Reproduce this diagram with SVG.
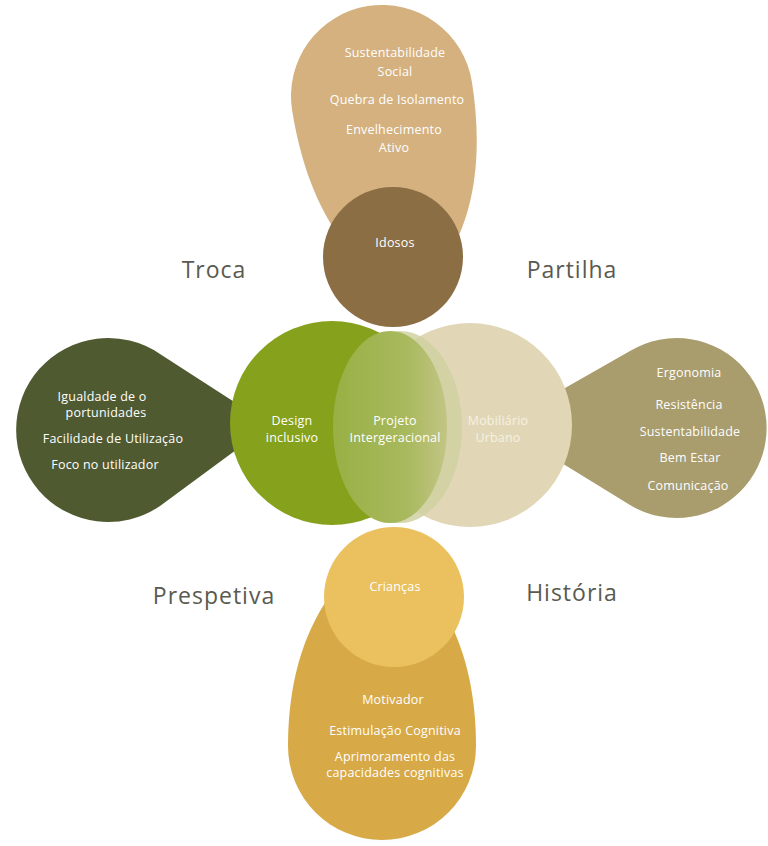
<svg xmlns="http://www.w3.org/2000/svg" width="768" height="846" viewBox="0 0 768 846">
  <defs>
    <linearGradient id="lensFill" x1="0" y1="0" x2="1" y2="0">
      <stop offset="0" stop-color="#98b044"/>
      <stop offset="0.65" stop-color="#a9b95e"/>
      <stop offset="1" stop-color="#c2c585"/>
    </linearGradient>
    <style>
      .t { font-family: "Open Sans", "Noto Sans", "DejaVu Sans", sans-serif; font-size: 12.5px; fill: #ffffff; text-anchor: middle; letter-spacing: 0.2px; }
      .soft { fill: #f6f1e2; }
      .lbl { font-family: "Open Sans", "Noto Sans", "DejaVu Sans", sans-serif; font-size: 23px; fill: #5a5a50; text-anchor: middle; letter-spacing: 1px; }
    </style>
  </defs>
  <rect width="768" height="846" fill="#ffffff"/>

  <!-- outer teardrops -->
  <g id="topo">
    <path transform="translate(382,96) rotate(-9)" d="M0 200 C-50 175 -91 110 -91 0 A91 91 0 0 1 91 0 C91 110 50 175 0 200 Z" fill="#d4b17f"/>
    <text class="t" x="395" y="57">Sustentabilidade</text>
    <text class="t" x="395" y="76">Social</text>
    <text class="t" x="397" y="104">Quebra de Isolamento</text>
    <text class="t" x="394" y="134">Envelhecimento</text>
    <text class="t" x="394" y="152">Ativo</text>
  </g>

  <g id="esquerda">
    <path d="M160 354 L270 425 L160 506 A92 92 0 1 1 160 354 Z" fill="#4f5a31"/>
    <text class="t" x="102" y="401">Igualdade de o</text>
    <text class="t" x="106" y="417">portunidades</text>
    <text class="t" x="113" y="443">Facilidade de Utilização</text>
    <text class="t" x="105" y="469">Foco no utilizador</text>
  </g>

  <g id="direita">
    <path d="M630 351 L500 425 L630 505 A90 90 0 1 0 630 351 Z" fill="#a99c6d"/>
    <text class="t" x="689" y="377">Ergonomia</text>
    <text class="t" x="689" y="409">Resistência</text>
    <text class="t" x="690" y="436">Sustentabilidade</text>
    <text class="t" x="690" y="462">Bem Estar</text>
    <text class="t" x="688" y="490">Comunicação</text>
  </g>

  <g id="baixo">
    <path transform="translate(382,746)" d="M0 -200 C-55 -165 -94 -100 -94 0 A94 94 0 0 0 94 0 C94 -100 55 -165 0 -200 Z" fill="#d7a947"/>
    <text class="t" x="393" y="704">Motivador</text>
    <text class="t" x="395" y="735">Estimulação Cognitiva</text>
    <text class="t" x="395" y="761">Aprimoramento das</text>
    <text class="t" x="395" y="777">capacidades cognitivas</text>
  </g>

  <!-- central overlapping circles -->
  <g id="mobiliario">
    <circle cx="470" cy="425" r="102" fill="#e1d7b6"/>
  </g>
  <g id="design">
    <circle cx="332" cy="423" r="102" fill="#86a11b"/>
    <text class="t" x="292" y="425">Design</text>
    <text class="t" x="292" y="442">inclusivo</text>
  </g>
  <g id="projeto">
    <ellipse cx="400" cy="427" rx="62" ry="96" fill="#d0d1a2" opacity="0.85"/>
    <ellipse cx="390" cy="427" rx="57" ry="96" fill="url(#lensFill)"/>
    <text class="t" x="395" y="425">Projeto</text>
    <text class="t" x="395" y="442">Intergeracional</text>
  </g>
  <g id="mobiliario-texto">
    <text class="t soft" x="498" y="425">Mobiliário</text>
    <text class="t soft" x="498" y="442">Urbano</text>
  </g>

  <g id="idosos">
    <circle cx="393" cy="257" r="70" fill="#8c6e45"/>
    <text class="t" x="395" y="247">Idosos</text>
  </g>

  <g id="criancas">
    <circle cx="394" cy="597" r="70" fill="#ebc15f"/>
    <text class="t" x="395" y="591">Crianças</text>
  </g>

  <!-- quadrant labels -->
  <g id="labels">
    <text class="lbl" x="214" y="278">Troca</text>
    <text class="lbl" x="572" y="278">Partilha</text>
    <text class="lbl" x="214" y="604">Prespetiva</text>
    <text class="lbl" x="572" y="601">História</text>
  </g>
</svg>
